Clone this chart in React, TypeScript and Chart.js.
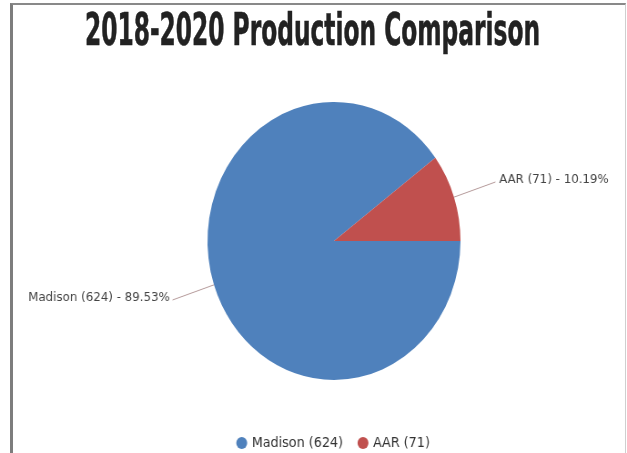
import React, { useEffect, useRef } from "react";
import { Chart, registerables } from "chart.js";

Chart.register(...registerables);

const TITLE = "2018-2020 Production Comparison";
const categories = ["Madison", "AAR"];
const values = [624, 71];
const percents = ["89.53", "10.19"];
const colors = ["#4F81BC", "#C0504E"];

const SX = 0.91; // horizontal squeeze of the original picture
const W = 689;
const H = 460;

export default function App() {
  const canvasRef = useRef<HTMLCanvasElement>(null);
  const titleRef = useRef<HTMLSpanElement>(null);

  useEffect(() => {
    const t = titleRef.current;
    if (t) {
      t.style.transform = "none";
      const w = t.offsetWidth;
      t.style.transform = `scaleX(${455 / w})`;
    }

    const labelPlugin = {
      id: "indexLabels",
      afterDatasetsDraw(chart: any) {
        const ctx = chart.ctx;
        const meta = chart.getDatasetMeta(0);
        ctx.save();
        ctx.font = '13px "DejaVu Sans"';
        ctx.textBaseline = "middle";
        meta.data.forEach((arc: any, i: number) => {
          const { x, y, startAngle, endAngle, outerRadius } = arc.getProps(
            ["x", "y", "startAngle", "endAngle", "outerRadius"],
            true
          );
          const mid = (startAngle + endAngle) / 2;
          const c = Math.cos(mid);
          const s = Math.sin(mid);
          const L = 48;
          const x1 = x + c * outerRadius;
          const y1 = y + s * outerRadius;
          const x2 = x + c * (outerRadius + L);
          const y2 = y + s * (outerRadius + L);
          ctx.strokeStyle = "#b59a9a";
          ctx.lineWidth = 1;
          ctx.beginPath();
          ctx.moveTo(x1, y1);
          ctx.lineTo(x2, y2);
          ctx.stroke();
          const left = c < 0;
          ctx.textAlign = left ? "right" : "left";
          ctx.fillStyle = "#444";
          const text = `${categories[i]} (${values[i]}) - ${percents[i]}%`;
          ctx.fillText(text, x2 + (left ? -3 : 4), y2 - 2);
        });
        ctx.restore();
      },
    };

    const chart = new Chart(canvasRef.current as HTMLCanvasElement, {
      type: "pie",
      data: {
        labels: categories.map((c, i) => `${c} (${values[i]})`),
        datasets: [
          {
            data: values,
            backgroundColor: colors,
            borderWidth: 0,
            radius: 139,
          } as any,
        ],
      },
      options: {
        responsive: false,
        animation: false,
        rotation: 90,
        layout: { padding: { top: 64, left: 45, right: 0, bottom: 0 } },
        plugins: {
          title: { display: false },
          tooltip: { enabled: false },
          legend: {
            display: true,
            position: "bottom",
            labels: {
              usePointStyle: true,
              pointStyle: "circle",
              boxWidth: 8,
              boxHeight: 8.5,
              padding: 18,
              color: "#333",
              font: { family: '"DejaVu Sans"', size: 14 },
            },
          },
        },
      },
      plugins: [labelPlugin],
    });
    return () => chart.destroy();
  }, []);

  return (
    <div
      style={{
        position: "absolute",
        left: 0,
        top: 0,
        width: 627,
        height: 453,
        overflow: "hidden",
        background: "#fff",
      }}
    >
      <div
        style={{
          position: "absolute",
          left: 0,
          top: 0,
          width: W,
          height: H,
          transform: `scaleX(${SX})`,
          transformOrigin: "0 0",
        }}
      >
        <canvas
          ref={canvasRef}
          width={W}
          height={H}
          style={{ width: W, height: H, display: "block" }}
        />
      </div>
      <span
        ref={titleRef}
        style={{
          position: "absolute",
          left: 85,
          top: 7,
          fontFamily: '"DejaVu Sans Condensed", "DejaVu Sans", sans-serif',
          fontWeight: "bold",
          fontSize: 45,
          lineHeight: "45px",
          whiteSpace: "nowrap",
          color: "#222",
          transformOrigin: "0 0",
          WebkitTextStroke: "0.6px #222",
        }}
      >
        {TITLE}
      </span>
      <div
        style={{
          position: "absolute",
          left: 10,
          top: 3,
          width: 616,
          height: 520,
          boxSizing: "border-box",
          borderLeft: "3px solid #7d7d7d",
          borderTop: "2px solid #898989",
          borderRight: "1px solid #cfcfcf",
          pointerEvents: "none",
        }}
      />
    </div>
  );
}
